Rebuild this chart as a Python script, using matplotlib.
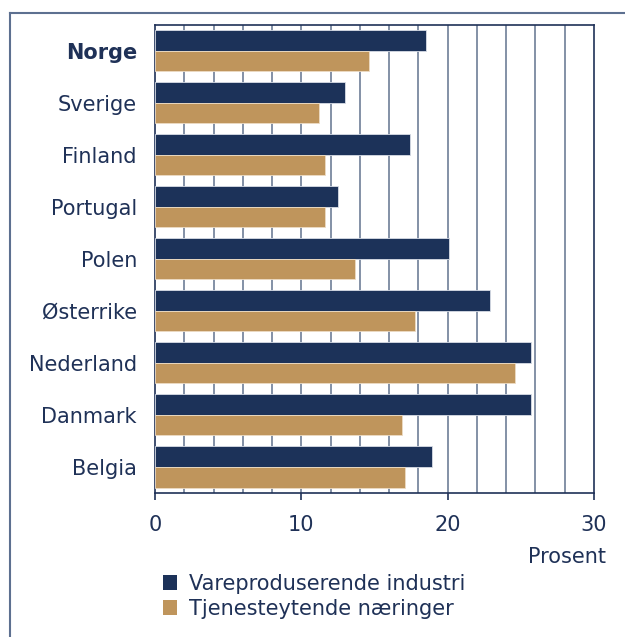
import matplotlib
matplotlib.use("Agg")
import matplotlib.pyplot as plt
from matplotlib.patches import Patch
from matplotlib.lines import Line2D

countries = ["Norge", "Sverige", "Finland", "Portugal", "Polen",
             "Østerrike", "Nederland", "Danmark", "Belgia"]
vareproduserende = [18.5, 13.0, 17.4, 12.5, 20.1, 22.9, 25.7, 25.7, 18.9]
tjenesteytende = [14.6, 11.2, 11.6, 11.6, 13.7, 17.8, 24.6, 16.9, 17.1]
series_names = ["Vareproduserende industri", "Tjenesteytende næringer"]

navy = "#1c3259"
tan = "#bf955c"
txt = "#1f3157"
grid_col = "#7a889f"
fs = 15

plt.rcParams["font.family"] = ["DejaVu Sans"]

fig = plt.figure(figsize=(6.25, 6.37), dpi=100)
ax = fig.add_axes([0.248, 0.2261, 0.7024, 0.7354])

ypos = list(range(len(countries)))
h = 0.395
ax.barh([y - h / 2 for y in ypos], vareproduserende, height=h, color=navy,
        edgecolor="#d8dde6", linewidth=0.6, zorder=3)
ax.barh([y + h / 2 for y in ypos], tjenesteytende, height=h, color=tan,
        edgecolor="#eddcc4", linewidth=0.6, zorder=3)

ax.set_xlim(0, 30)
ax.set_ylim(len(countries) - 0.5, -0.5)

# vertikale linjer for hver 2. prosent
for gx in range(2, 30, 2):
    ax.axvline(gx, color=grid_col, linewidth=1.3, zorder=1)

ax.set_xticks([0, 10, 20, 30])
ax.set_yticks(ypos)
ax.set_yticklabels(countries)
ax.tick_params(axis="x", direction="out", length=5, width=1.2, color=txt,
               labelsize=fs, labelcolor=txt, pad=11)
ax.tick_params(axis="y", length=0, labelsize=fs, labelcolor=txt, pad=13)
ax.get_yticklabels()[0].set_fontweight("bold")

for s in ax.spines.values():
    s.set_color(txt)
    s.set_linewidth(1.2)

fig.text(606 / 625, 1 - 557 / 637, "Prosent", ha="right", va="center",
         color=txt, fontsize=fs)

handles = [Patch(facecolor=navy, edgecolor="none"),
           Patch(facecolor=tan, edgecolor="none")]
fig.legend(handles, series_names, loc="upper left",
           bbox_to_anchor=(146 / 625, 1 - 557 / 637), frameon=False,
           fontsize=fs, labelcolor=txt, handlelength=0.68, handleheight=0.68,
           handletextpad=0.6, labelspacing=0.25, borderpad=0.3)

# ramme rundt figuren (bare venstre og topp synlig)
fig.add_artist(Line2D([10 / 625, 10 / 625], [0, 1 - 13 / 637],
                      color="#5d7090", linewidth=1.5))
fig.add_artist(Line2D([10 / 625, 1], [1 - 13 / 637, 1 - 13 / 637],
                      color="#5d7090", linewidth=1.5))

fig.savefig("out.png", dpi=100)
